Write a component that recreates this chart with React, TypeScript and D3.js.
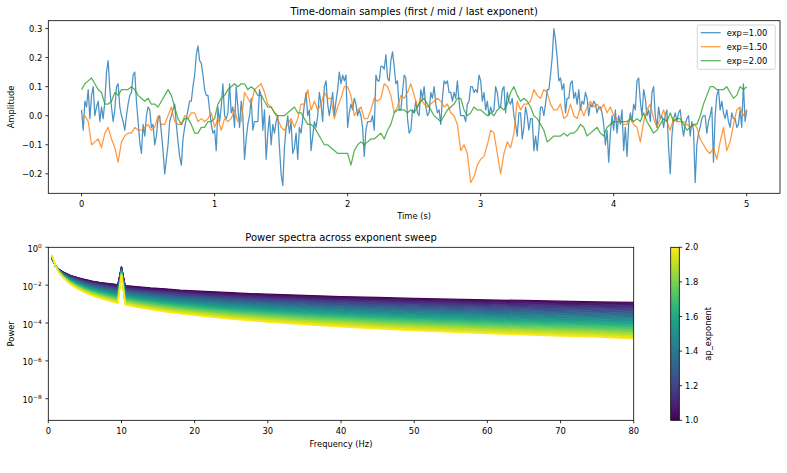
import React from 'react';
import * as d3 from 'd3';

const W = 787;
const H = 473;
const FONT = "'DejaVu Sans', sans-serif";

// ---- Time-domain samples (5 s) ----
const ampExp100 = [
  0.02, -0.05, 0.05, 0.03, 0.09, -0.01, 0.07, 0.10, 0.00, 0.03,
  0.05, -0.02, 0.03, -0.01, 0.05, 0.15, 0.19, 0.09, 0.03, -0.02,
  0.02, 0.10, 0.11, 0.03, 0.00, -0.02, -0.05, 0.00, 0.04, 0.07,
  0.08, 0.14, 0.15, 0.05, -0.02, -0.09, -0.13, -0.03, -0.07, 0.00,
  0.03, 0.02, -0.04, -0.03, -0.10, -0.07, -0.01, 0.00, -0.06, -0.12,
  -0.20, -0.15, -0.10, -0.02, 0.00, 0.02, 0.04, -0.03, -0.09, -0.14,
  -0.17, -0.08, -0.04, -0.01, 0.02, 0.05, 0.05, 0.10, 0.14, 0.21,
  0.24, 0.19, 0.18, 0.14, 0.09, 0.07, 0.07, 0.02, -0.03, -0.06,
  -0.05, -0.12, 0.03, -0.02, 0.03, 0.11, 0.00, -0.01, 0.01, 0.11,
  0.01, 0.03, -0.04, 0.10, 0.03, -0.04, 0.05, 0.00, -0.15, -0.08,
  -0.03, 0.00, 0.06, -0.05, -0.02, -0.02, -0.02, 0.09, 0.07, -0.05,
  0.02, -0.15, -0.06, 0.00, -0.10, -0.03, -0.06, -0.02, 0.00, -0.11,
  -0.20, -0.24, -0.11, -0.04, 0.00, -0.06, -0.02, -0.13, -0.11, -0.06,
  -0.15, -0.04, -0.06, -0.01, 0.04, 0.08, 0.00, 0.02, -0.12, -0.07,
  -0.02, -0.04, 0.00, 0.08, 0.04, -0.02, 0.10, 0.12, 0.04, 0.00,
  0.04, 0.08, 0.00, 0.05, 0.09, 0.15, 0.11, 0.14, 0.12, 0.14,
  -0.04, 0.01, 0.04, 0.02, 0.06, 0.04, 0.00, 0.02, 0.00, -0.04,
  -0.14, -0.05, -0.02, -0.02, -0.02, 0.00, -0.05, 0.14, 0.12, 0.12,
  0.17, 0.17, 0.16, 0.21, 0.13, 0.12, 0.19, 0.22, 0.17, 0.11,
  0.12, 0.02, 0.02, 0.08, 0.14, 0.13, -0.01, -0.06, -0.05, 0.02,
  0.01, 0.05, 0.01, 0.00, 0.09, 0.06, 0.10, 0.03, 0.00, 0.01,
  0.08, 0.06, 0.10, 0.04, 0.01, 0.02, -0.03, 0.06, 0.12, 0.11,
  0.12, 0.08, 0.08, 0.05, 0.08, 0.06, 0.12, 0.05, 0.00, 0.00,
  0.00, -0.02, 0.04, 0.05, 0.10, 0.10, 0.08, 0.09, 0.08, 0.14,
  0.12,
  0.05, 0.08, 0.02, 0.05, 0.00, 0.03, 0.01, 0.02, 0.10, 0.08,
  0.03, 0.03, 0.09, 0.10, 0.01, 0.08, 0.05, 0.04, 0.06, 0.00,
  -0.03, -0.07, 0.01, 0.01, -0.08, -0.04, 0.03, 0.00, -0.05, -0.01,
  -0.01, -0.12, -0.07, -0.12, -0.05, 0.03, 0.03, 0.00, 0.04, 0.09,
  0.09, 0.14, 0.20, 0.30, 0.26, 0.20, 0.12, 0.13, 0.09, 0.11,
  0.01, 0.06, 0.06, 0.11, 0.12, 0.06, 0.08, 0.04, 0.09, 0.02,
  0.05, 0.04, 0.08, 0.06, 0.00, 0.04, 0.03, 0.05, 0.04, 0.01,
  0.03, 0.03, 0.01, -0.03, -0.10, -0.05, -0.16, -0.06, 0.00, -0.05,
  0.02, -0.06, 0.00, -0.03, 0.02, -0.12, -0.04, -0.14, -0.03, 0.01,
  -0.02, 0.04, 0.02, 0.12, 0.13, 0.05, 0.00, 0.09, 0.06, 0.00,
  0.02, -0.02, 0.08, 0.10, 0.00, -0.04, 0.03, -0.01, 0.00, -0.04,
  0.00, 0.02, -0.11, -0.20, -0.07, -0.01, 0.01, -0.02, 0.01, 0.02,
  -0.03, -0.07, -0.03, -0.01, 0.00, -0.07, -0.02, -0.05, -0.23, -0.10,
  -0.06, -0.04, -0.01, 0.00, 0.00, -0.06, -0.02, 0.00, 0.03, -0.16,
  0.00, 0.07, 0.09, 0.02, 0.05, 0.01, -0.01, 0.02, -0.02, -0.04,
  0.01, -0.01, -0.01, -0.04, -0.03, 0.02, -0.04, 0.11, -0.02, 0.02,
];

const ampExp150 = [
  -0.01, 0.00, -0.02, -0.10, -0.09, -0.08, -0.11, -0.06, -0.04, -0.08,
  -0.11, -0.16, -0.09, -0.07, -0.06, -0.06, -0.04, -0.05, -0.05, -0.04,
  -0.03, -0.05, -0.04, 0.00, -0.03, -0.03, 0.00, 0.03, -0.02, -0.03,
  -0.03, 0.00, -0.01, 0.01, 0.01, -0.02, -0.01, -0.02, -0.01, 0.01,
  -0.04, -0.01, -0.05, -0.01, -0.02, -0.01, 0.02, -0.02, -0.02, 0.08,
  0.06, 0.04, 0.09, 0.10, 0.11, 0.08, 0.04, 0.03, 0.01, -0.01,
  -0.04, -0.05, -0.03, -0.01, -0.04, -0.01, 0.04, 0.04, 0.09, 0.02,
  0.05, 0.02, 0.04, 0.08, 0.06, 0.06, -0.01, 0.03, 0.06, 0.10,
  0.10, 0.07, 0.00, 0.02, 0.03, -0.01, -0.01, 0.02, 0.06, 0.05,
  0.06, 0.11, 0.10, 0.07, 0.01, 0.03, 0.07, 0.06, 0.08, 0.11,
  0.07, 0.03, 0.06, 0.04, 0.03, 0.04, 0.05, 0.06, 0.05, 0.03,
  0.04, 0.01, 0.00, -0.03, -0.12, -0.10, -0.13, -0.23, -0.21, -0.17,
  -0.15, -0.14, -0.10, -0.05, -0.06, -0.13, -0.20, -0.13, -0.09, -0.11,
  -0.06, 0.05, 0.02, 0.04, 0.04, 0.05, 0.09, 0.07, 0.06, 0.09,
  0.08, 0.04, 0.02, 0.02, 0.04, -0.01, 0.00, 0.04, 0.00, -0.01,
  0.03, 0.00, 0.03, 0.05, 0.03, 0.04, 0.02, 0.04, 0.01, 0.03,
  0.00,
  -0.01, -0.02, -0.03, -0.03, -0.01, -0.03, -0.04, -0.09, -0.02, 0.02,
  0.04, -0.01, -0.04, -0.01, 0.02, -0.02, -0.05, -0.01, -0.02, -0.02,
  -0.02, -0.03, -0.04, -0.03, -0.04, -0.08, -0.10, -0.12, -0.13, -0.11,
  -0.15, -0.09, -0.04, -0.12, -0.09, -0.03, 0.02, 0.03, 0.00, 0.02,
];

const ampExp200 = [
  0.09, 0.11, 0.12, 0.13, 0.11, 0.09, 0.08, 0.04, 0.04, 0.05,
  0.08, 0.07, 0.09, 0.09, 0.09, 0.10, 0.09, 0.07, 0.06, 0.05,
  0.06, 0.04, 0.04, 0.03, 0.05, 0.07, 0.09, 0.07, 0.03, -0.01,
  -0.03, -0.01, -0.01, -0.03, -0.06, -0.06, -0.04, -0.04, -0.02, -0.02,
  -0.01, 0.04, 0.06, 0.07, 0.09, 0.10, 0.11, 0.10, 0.11, 0.11,
  0.09, 0.10, 0.09, 0.07, 0.07, 0.05, 0.03, 0.03, 0.01, 0.00,
  0.00, 0.00, 0.01, 0.02, 0.03, 0.01, 0.01, -0.01, -0.03, -0.03,
  -0.04, -0.06, -0.08, -0.10, -0.10, -0.11, -0.12, -0.13, -0.13, -0.13,
  -0.13, -0.17, -0.12, -0.10, -0.09, -0.10, -0.09, -0.08, -0.08, -0.07,
  -0.06, -0.08, -0.05, -0.03, 0.01, 0.02, 0.02, 0.02, 0.01, 0.02,
  0.01, 0.03, 0.05, 0.06, 0.04, 0.02, 0.00, -0.01, -0.02, 0.00,
  0.02, 0.03, 0.04, 0.06, 0.06, 0.02, 0.00, 0.01, 0.03, 0.02,
  0.02, 0.01, 0.00, 0.01, 0.00, 0.02, 0.03, 0.02, 0.04, 0.08,
  0.10, 0.07, 0.05, 0.06, 0.05, 0.03, 0.00, -0.01, -0.03, -0.05,
  -0.09, -0.08, -0.07, -0.07, -0.07, -0.06, -0.07, -0.06, -0.06, -0.05,
  -0.03, -0.04, -0.07, -0.06, -0.05, -0.04, -0.06, -0.07, -0.04, -0.03,
  -0.02,
  -0.02, -0.02, -0.02, -0.02, -0.01, -0.02, -0.01, -0.02, 0.01, -0.02,
  -0.04, -0.06, -0.05, -0.03, -0.01, -0.02, 0.01, -0.02, -0.01, -0.01,
  -0.03, -0.05, -0.04, -0.03, -0.03, 0.00, 0.04, 0.07, 0.10, 0.10,
  0.09, 0.09, 0.09, 0.10, 0.08, 0.06, 0.07, 0.10, 0.09, 0.10,
];

const DURATION = 5;
const seriesLabels = ['exp=1.00', 'exp=1.50', 'exp=2.00'];
const seriesColors = ['#1f77b4', '#ff7f0e', '#2ca02c'];
const timeTicks = [0, 1, 2, 3, 4, 5];
const ampTicks = [-0.2, -0.1, 0.0, 0.1, 0.2, 0.3];

// ---- Power spectra (log10 power of the first and last exponent curves) ----
const specFreqs = [0.5, 1, 1.5, 2, 3, 4, 5, 6, 7, 8, 9, 9.5, 10, 10.5, 11, 12, 14, 16, 18, 20, 25, 30, 35, 40, 45, 50, 55, 60, 65, 70, 75, 80];
const logPowerFirst = [-0.62, -1.0, -1.18, -1.3, -1.48, -1.6, -1.7, -1.78, -1.85, -1.9, -1.95, -1.98, -1.03, -2.02, -2.04, -2.08, -2.15, -2.2, -2.26, -2.3, -2.4, -2.48, -2.54, -2.6, -2.65, -2.7, -2.74, -2.78, -2.81, -2.85, -2.88, -2.91];
const logPowerLast = [-0.4, -1.0, -1.35, -1.6, -1.95, -2.2, -2.4, -2.56, -2.69, -2.8, -2.91, -2.96, -1.5, -3.04, -3.08, -3.16, -3.29, -3.41, -3.51, -3.6, -3.8, -3.95, -4.09, -4.2, -4.31, -4.4, -4.48, -4.56, -4.63, -4.69, -4.75, -4.84];
const apExponents = [
  1.00, 1.02, 1.04, 1.06, 1.08, 1.10, 1.12, 1.14, 1.16, 1.18,
  1.20, 1.22, 1.24, 1.26, 1.28, 1.30, 1.32, 1.34, 1.36, 1.38,
  1.40, 1.42, 1.44, 1.46, 1.48, 1.50, 1.52, 1.54, 1.56, 1.58,
  1.60, 1.62, 1.64, 1.66, 1.68, 1.70, 1.72, 1.74, 1.76, 1.78,
  1.80, 1.82, 1.84, 1.86, 1.88, 1.90, 1.92, 1.94, 1.96, 1.98, 2.00,
];
const freqTicks = [0, 10, 20, 30, 40, 50, 60, 70, 80];
const powerTickExps = [0, -2, -4, -6, -8];
const cbarTicks = [1.0, 1.2, 1.4, 1.6, 1.8, 2.0];

const fmtNum = (v: number, d: number) => {
  const s = Math.abs(v) < 1e-9 ? (0).toFixed(d) : v.toFixed(d);
  return s.replace('-', '\u2212');
};

export default function App() {
  const FS = 8.33;
  const TICK = 2.9;
  const A = { l: 48.3, r: 780, t: 20.7, b: 193.3 };
  const B = { l: 48.3, r: 633.7, t: 247.3, b: 420.3 };
  const CB = { l: 670.7, r: 679.3 };

  const all = [...ampExp100, ...ampExp150, ...ampExp200];
  const [mn, mx] = d3.extent(all) as [number, number];
  const pad = (mx - mn) * 0.05;
  const xT = d3.scaleLinear().domain([-0.05 * DURATION, 1.05 * DURATION]).range([A.l, A.r]);
  const yT = d3.scaleLinear().domain([mn - pad, mx + pad]).range([A.b, A.t]);

  const series = [ampExp100, ampExp150, ampExp200];
  const lineT = (arr: number[]) =>
    d3.line<number>()
      .x((_, i) => xT((i * DURATION) / (arr.length - 1)))
      .y((v) => yT(v))(arr) as string;

  const xF = d3.scaleLinear().domain([0, 80]).range([B.l, B.r]);
  const yP = d3.scaleLog().domain([Math.pow(10, -9.14), 1]).range([B.b, B.t]);
  const eMin = apExponents[0];
  const eMax = apExponents[apExponents.length - 1];
  const cScale = d3.scaleSequential(d3.interpolateViridis).domain([eMin, eMax]);
  const lineF = d3.line<[number, number]>().x((d) => xF(d[0])).y((d) => yP(d[1]));
  const specPaths = apExponents.map((e) => {
    const w = (e - eMin) / (eMax - eMin);
    const pts = specFreqs.map((f, i) => [f, Math.pow(10, logPowerFirst[i] + w * (logPowerLast[i] - logPowerFirst[i]))] as [number, number]);
    return { e, d: lineF(pts) as string };
  });
  const yC = d3.scaleLinear().domain([eMin, eMax]).range([B.b, B.t]);
  const gradStops = d3.range(0, 1.0001, 0.05);

  const spineStyle = { fill: 'none', stroke: '#000', strokeWidth: 0.8 };

  return (
    <svg width={W} height={H} style={{ position: 'absolute', left: 0, top: 0, background: '#fff' }} fontFamily={FONT}>
      <defs>
        <linearGradient id="vir" x1="0" y1="1" x2="0" y2="0">
          {gradStops.map((s) => (
            <stop key={s} offset={s} stopColor={d3.interpolateViridis(s)} />
          ))}
        </linearGradient>
        <clipPath id="clipB">
          <rect x={B.l} y={B.t} width={B.r - B.l} height={B.b - B.t} />
        </clipPath>
      </defs>
      <rect x={0} y={0} width={W} height={H} fill="#fff" />

      {/* ---------- Top panel ---------- */}
      <text x={(A.l + A.r) / 2} y={14.6} fontSize={10} textAnchor="middle">Time-domain samples (first / mid / last exponent)</text>
      {series.map((s, i) => (
        <path key={i} d={lineT(s)} fill="none" stroke={seriesColors[i]} strokeWidth={1.25} strokeOpacity={0.8} strokeLinejoin="round" />
      ))}
      <rect x={A.l} y={A.t} width={A.r - A.l} height={A.b - A.t} {...spineStyle} />
      {timeTicks.map((t) => (
        <g key={t}>
          <line x1={xT(t)} x2={xT(t)} y1={A.b} y2={A.b + TICK} stroke="#000" strokeWidth={0.8} />
          <text x={xT(t)} y={A.b + 13.4} fontSize={FS} textAnchor="middle">{t}</text>
        </g>
      ))}
      {ampTicks.map((v) => (
        <g key={v}>
          <line x1={A.l - TICK} x2={A.l} y1={yT(v)} y2={yT(v)} stroke="#000" strokeWidth={0.8} />
          <text x={A.l - 6} y={yT(v) + 3} fontSize={FS} textAnchor="end">{fmtNum(v, 1)}</text>
        </g>
      ))}
      <text x={(A.l + A.r) / 2} y={219.4} fontSize={FS} textAnchor="middle">Time (s)</text>
      <text transform={`translate(13.5,${(A.t + A.b) / 2}) rotate(-90)`} fontSize={FS} textAnchor="middle">Amplitude</text>

      {/* legend */}
      <rect x={697.3} y={25} width={78} height={44.3} rx={2} fill="#fff" fillOpacity={0.8} stroke="#cccccc" strokeWidth={0.8} />
      {seriesLabels.map((lab, i) => (
        <g key={lab}>
          <line x1={700.7} x2={720.7} y1={32.7 + i * 14} y2={32.7 + i * 14} stroke={seriesColors[i]} strokeOpacity={0.8} strokeWidth={1.25} />
          <text x={726.7} y={32.7 + i * 14 + 3} fontSize={FS}>{lab}</text>
        </g>
      ))}

      {/* ---------- Bottom panel ---------- */}
      <text x={(B.l + B.r) / 2} y={241.3} fontSize={10} textAnchor="middle">Power spectra across exponent sweep</text>
      <g clipPath="url(#clipB)">
        {specPaths.map((p) => (
          <path key={p.e} d={p.d} fill="none" stroke={cScale(p.e)} strokeWidth={1.25} strokeLinejoin="round" />
        ))}
      </g>
      <rect x={B.l} y={B.t} width={B.r - B.l} height={B.b - B.t} {...spineStyle} />
      {freqTicks.map((f) => (
        <g key={f}>
          <line x1={xF(f)} x2={xF(f)} y1={B.b} y2={B.b + TICK} stroke="#000" strokeWidth={0.8} />
          <text x={xF(f)} y={B.b + 13.2} fontSize={FS} textAnchor="middle">{f}</text>
        </g>
      ))}
      {powerTickExps.map((e) => {
        const y = yP(Math.pow(10, e));
        return (
          <g key={e}>
            <line x1={B.l - TICK} x2={B.l} y1={y} y2={y} stroke="#000" strokeWidth={0.8} />
            <text x={B.l - 6.5} y={y + 4.5} fontSize={FS} textAnchor="end">
              <tspan>10</tspan>
              <tspan dy={-3.8} fontSize={5.9}>{e === 0 ? '0' : '\u2212' + String(-e)}</tspan>
            </text>
          </g>
        );
      })}
      <text x={(B.l + B.r) / 2} y={446.6} fontSize={FS} textAnchor="middle">Frequency (Hz)</text>
      <text transform={`translate(14,${(B.t + B.b) / 2}) rotate(-90)`} fontSize={FS} textAnchor="middle">Power</text>

      {/* colorbar */}
      <rect x={CB.l} y={B.t} width={CB.r - CB.l} height={B.b - B.t} fill="url(#vir)" />
      <rect x={CB.l} y={B.t} width={CB.r - CB.l} height={B.b - B.t} {...spineStyle} />
      {cbarTicks.map((v) => (
        <g key={v}>
          <line x1={CB.r} x2={CB.r + TICK} y1={yC(v)} y2={yC(v)} stroke="#000" strokeWidth={0.8} />
          <text x={CB.r + 5.8} y={yC(v) + 3} fontSize={FS}>{fmtNum(v, 1)}</text>
        </g>
      ))}
      <text transform={`translate(710.5,${(B.t + B.b) / 2}) rotate(-90)`} fontSize={FS} textAnchor="middle">ap_exponent</text>
    </svg>
  );
}
